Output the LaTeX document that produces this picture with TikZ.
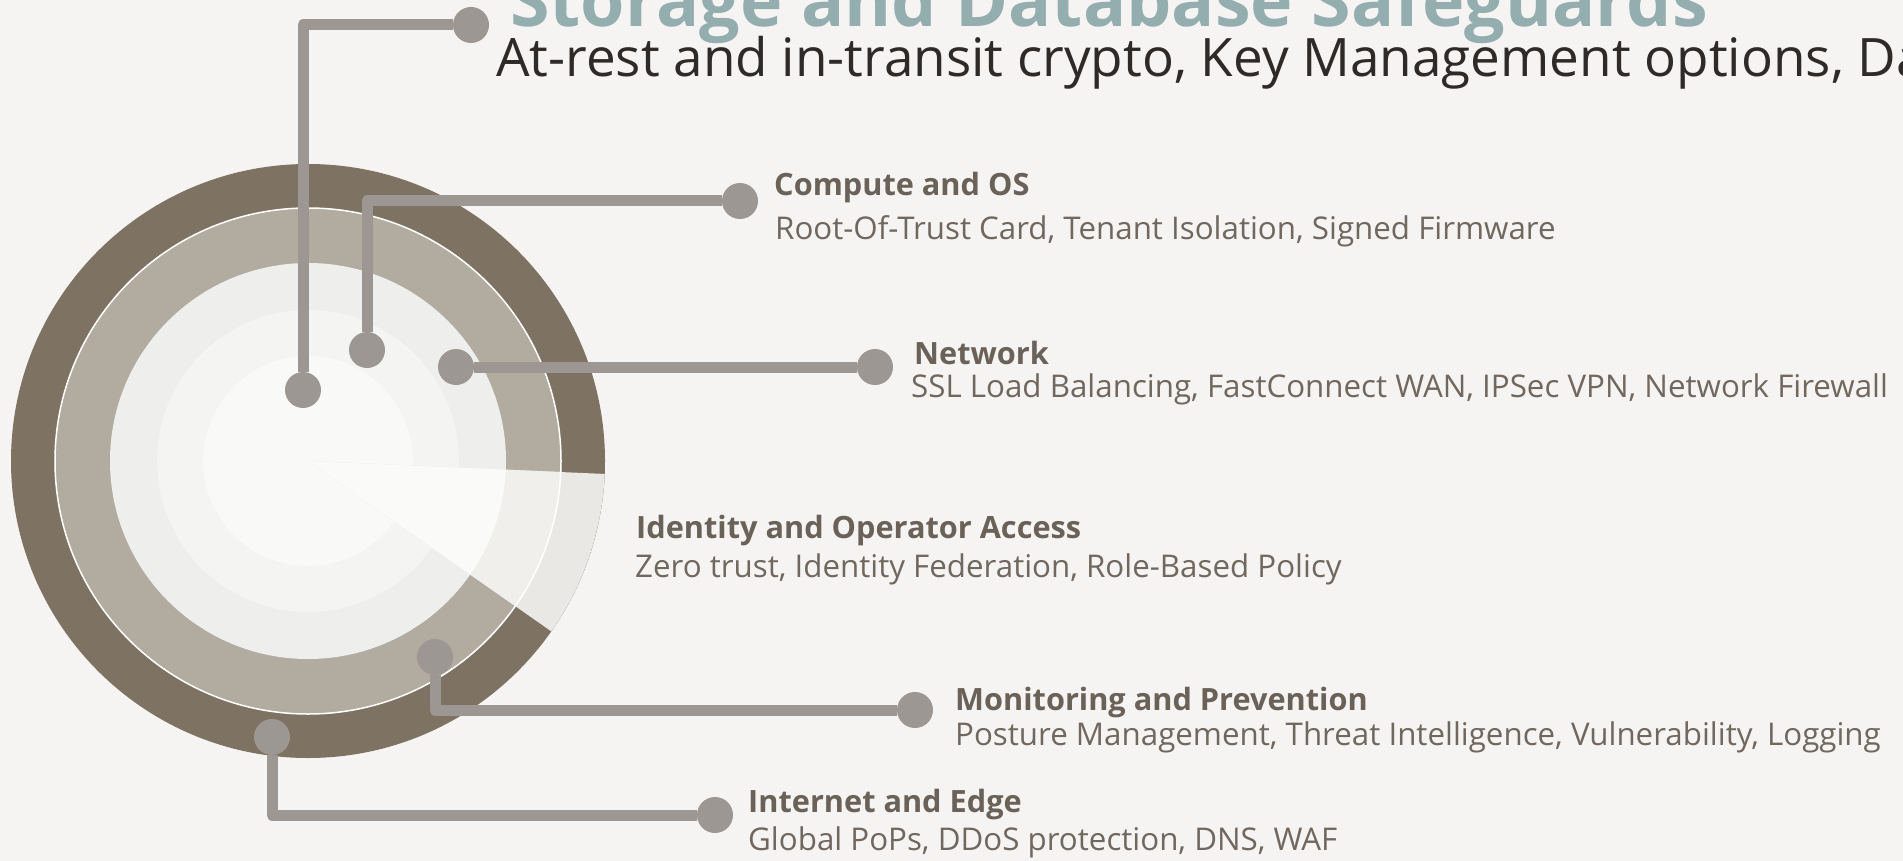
\documentclass[tikz,border=0pt]{standalone}
\usepackage{fontspec}
\setmainfont{Open Sans}
\usetikzlibrary{positioning}

\definecolor{paper}{HTML}{F5F4F2}
\definecolor{ringdark}{HTML}{7E7263}
\definecolor{ringtaupe}{HTML}{B2ABA0}
\definecolor{ringgray}{HTML}{EEEEEC}
\definecolor{ringlight}{HTML}{F4F4F2}
\definecolor{ringcore}{HTML}{F9F9F7}
\definecolor{wedgeout}{HTML}{E9E8E4}
\definecolor{wedgemid}{HTML}{F0EFEC}
\definecolor{wedgein}{HTML}{FAFAF8}
\definecolor{pingray}{HTML}{9C9793}
\definecolor{headtext}{HTML}{6A6159}
\definecolor{desctext}{HTML}{70675F}
\definecolor{subtext}{HTML}{2D2A28}
\definecolor{titletext}{HTML}{94AEB0}

\begin{document}
\begin{tikzpicture}[x=1pt,y=-1pt,
            pinline/.style={draw=pingray,line width=11pt,line join=round},
            pindot/.style={circle,fill=pingray,minimum size=36pt,inner sep=0pt},
            head/.style={anchor=base west,inner sep=0pt,text=headtext,font=\bfseries\fontsize{30.7}{34}\selectfont},
            desc/.style={anchor=base west,inner sep=0pt,text=desctext,font=\fontsize{31.3}{35}\selectfont}]
        \useasboundingbox (0,0) rectangle (1903,861);
        \fill[paper] (0,0) rectangle (1903,861);
        \clip (0,0) rectangle (1903,861);

        \begin{scope}[shift={(308,461)}]
            \fill[ringdark] (0,0) circle (297);
            \fill[ringtaupe] (0,0) circle (253);
            \fill[ringgray] (0,0) circle (198);
            \fill[ringlight] (0,0) circle (151);
            \fill[ringcore] (0,0) circle (105);
            \fill[wedgeout] (0,0) -- (2.5:297) arc (2.5:35:297) -- cycle;
            \fill[wedgemid] (0,0) -- (2.5:253) arc (2.5:35:253) -- cycle;
            \fill[wedgein] (0,0) -- (2.5:198) arc (2.5:35:198) -- cycle;
            \draw[white,line width=1.5pt] (0,0) circle (253);
        \end{scope}

        \node[pindot] (ptitle) at (303,390) {};
        \node[pindot] (etitle) at (471,25) {};
        \node[pindot] (pcomp) at (367,350) {};
        \node[pindot] (ecomp) at (740,201) {};
        \node[pindot] (pnet) at (456,367) {};
        \node[pindot] (enet) at (875,367) {};
        \node[pindot] (pmon) at (435,657) {};
        \node[pindot] (emon) at (915,710) {};
        \node[pindot] (pedge) at (272,737) {};
        \node[pindot] (eedge) at (715,815) {};

        \draw[pinline] (ptitle) |- (etitle);
        \draw[pinline] (pcomp) |- (ecomp);
        \draw[pinline] (pnet) -- (enet);
        \draw[pinline] (pmon) |- (emon);
        \draw[pinline] (pedge) |- (eedge);

        \node[anchor=base west,inner sep=0pt,text=titletext,font=\bfseries\fontsize{71.7}{76}\selectfont] (title) at (510,27) {Storage and Database Safeguards};
        \node[anchor=base west,inner sep=0pt,text=subtext,font=\fontsize{53}{58}\selectfont] (subtitle) at (496,77) {At-rest and in-transit crypto, Key Management options, Da};

        \node[head] (comphead) at (774,196) {Compute and OS};
        \node[desc] (compdesc) at (775,240) {Root-Of-Trust Card, Tenant Isolation, Signed Firmware};
        \node[head] (nethead) at (914,364) {Network};
        \node[desc] (netdesc) at (911,397) {SSL Load Balancing, FastConnect WAN, IPSec VPN, Network Firewall};
        \node[head] (idhead) at (636,538) {Identity and Operator Access};
        \node[desc] (iddesc) at (635,577) {Zero trust, Identity Federation, Role-Based Policy};
        \node[head] (monhead) at (955,710) {Monitoring and Prevention};
        \node[desc] (mondesc) at (955,745) {Posture Management, Threat Intelligence, Vulnerability, Logging};
        \node[head] (edgehead) at (748,812) {Internet and Edge};
        \node[desc] (edgedesc) at (748,850) {Global PoPs, DDoS protection, DNS, WAF};
    \end{tikzpicture}
\end{document}
